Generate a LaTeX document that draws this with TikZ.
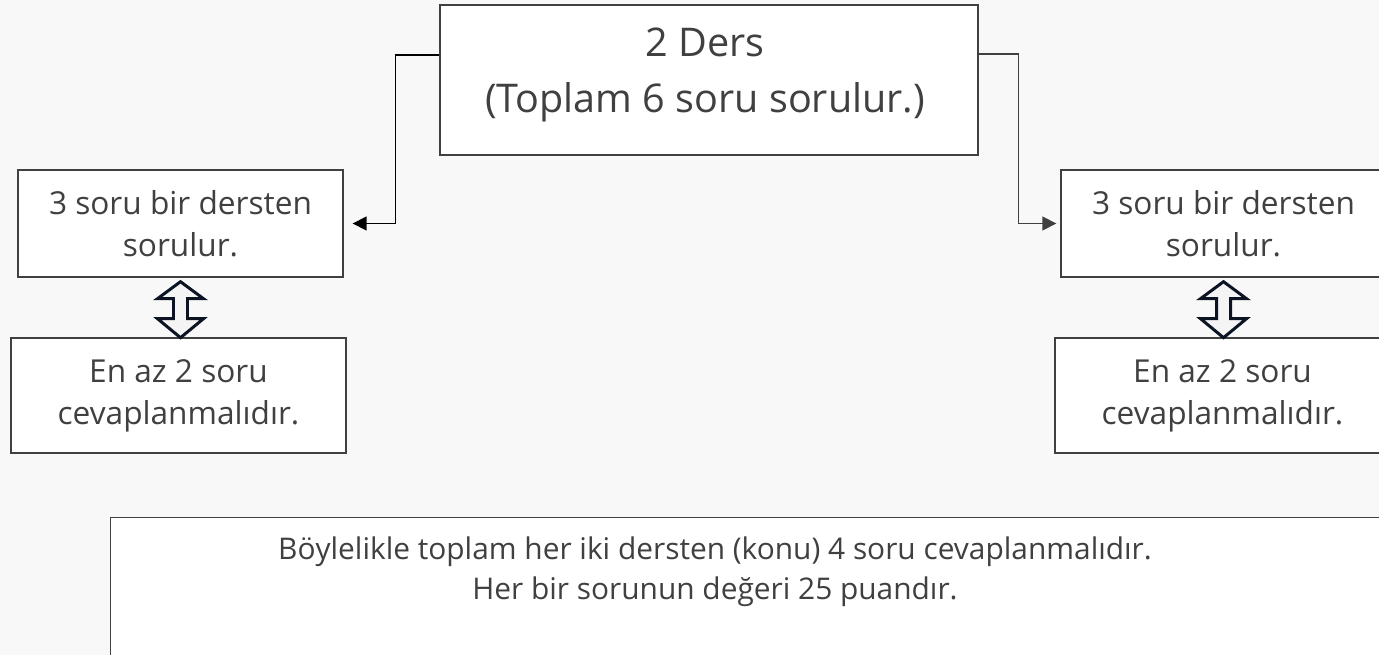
\documentclass[tikz,border=0pt]{standalone}
\usepackage{fontspec}
\setmainfont{Open Sans}
\usetikzlibrary{arrows.meta,positioning,calc}
\definecolor{txt}{HTML}{404040}
\definecolor{bg}{HTML}{F8F8F8}
\definecolor{navy}{HTML}{0C1424}

\begin{document}
\begin{tikzpicture}[x=0.02cm,y=-0.02cm,>={Triangle[length=0.28cm,width=0.28cm]},
 box/.style={draw=txt,fill=white,line width=0.8pt,text=txt,align=center,inner sep=0pt},
 big/.style={box,minimum width=10.76cm,minimum height=3cm},
 bigtxt/.style={text=txt,align=center,font=\fontsize{22.5}{32}\selectfont},
 small/.style={box,minimum width=6.5cm,minimum height=2.14cm,font=\fontsize{18}{24}\selectfont},
 wide/.style={box,minimum width=6.7cm,minimum height=2.3cm,font=\fontsize{18}{24}\selectfont},
 sumbox/.style={box,minimum width=27cm,minimum height=4cm,anchor=north west},
 sumtxt/.style={text=txt,align=center,font=\fontsize{17}{23}\selectfont},
 conn/.style={->,line width=0.8pt},
 dbl/.style={draw=navy,fill=bg!60!gray!20,line width=1.7pt,line join=miter}]
\useasboundingbox (0,0) rectangle (1379,655);
\clip (0,0) rectangle (1379,655);
\fill[bg] (0,0) rectangle (1379,655);
% boxes
\node[big] (top) at (709,80) {};
\node[bigtxt] (toptxt) at (705,75) {2 Ders\\(Toplam 6 soru sorulur.)};
\node[small] (l1) at (180.5,223.5) {3 soru bir dersten\\sorulur.};
\node[wide] (l2) at (178.5,395.5) {En az 2 soru\\cevaplanmalıdır.};
\node[small] (r1) at (1223.5,223.5) {3 soru bir dersten\\sorulur.};
\node[wide] (r2) at (1222.5,395.5) {En az 2 soru\\cevaplanmalıdır.};
\node[sumbox] (sum) at (110,517) {};
\node[sumtxt] (sumt) at (715,572) {Böylelikle toplam her iki dersten (konu) 4 soru cevaplanmalıdır.\\Her bir sorunun değeri 25 puandır.};
% connectors
\draw[conn,black,shorten >=0.18cm] ([yshift=0.5cm]top.west) -- ++(-44,0) |- (l1.east);
\draw[conn,txt,shorten >=0.08cm] ([yshift=0.52cm]top.east) -- ++(40,0) |- (r1.west);
\foreach \b in {l1,r1}
  \draw[dbl] ([yshift=-0.08cm]\b.south) -- ++(23,17) -- ++(-16,0) -- ++(0,20) -- ++(16,0)
    -- ++(-23,19) -- ++(-23,-19) -- ++(16,0) -- ++(0,-20) -- ++(-16,0) -- cycle;
\end{tikzpicture}
\end{document}
